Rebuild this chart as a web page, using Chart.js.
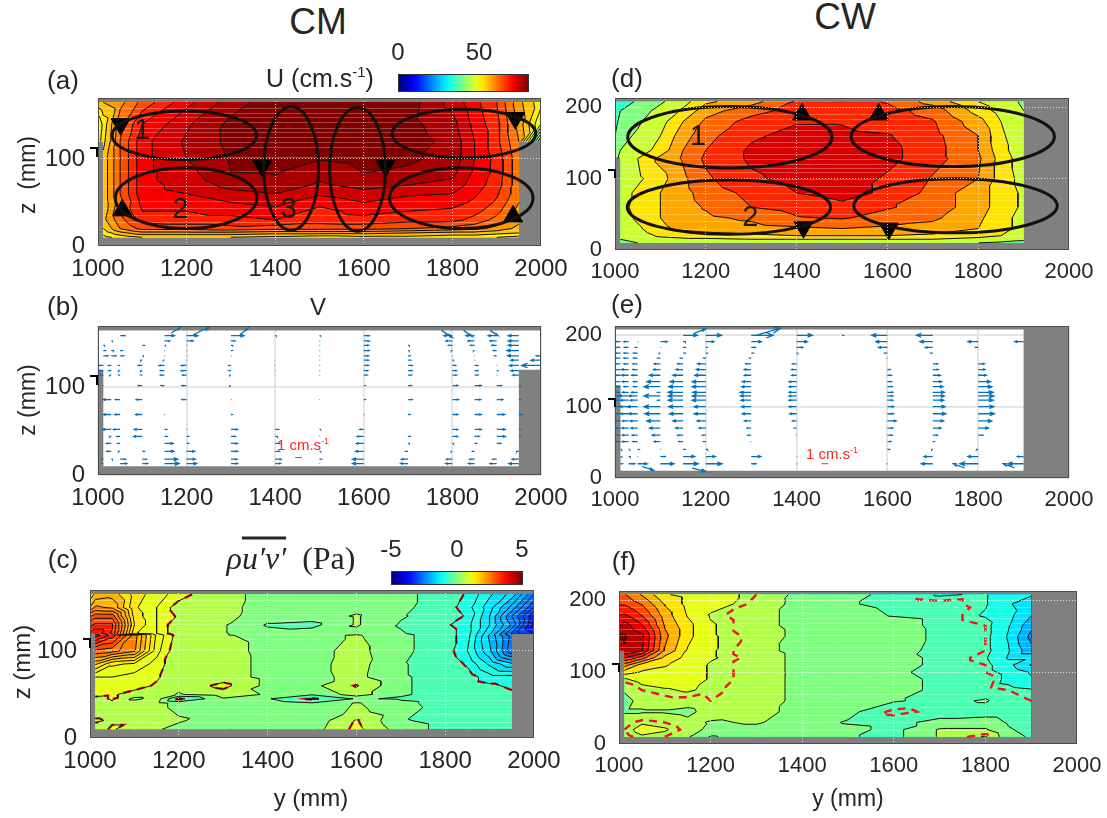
<!DOCTYPE html>
<html>
<head>
<meta charset="utf-8">
<script src="https://cdn.jsdelivr.net/npm/chart.js"></script>
<style>
  html, body { margin: 0; padding: 0; background: #fff; overflow: hidden; width: 1107px; height: 818px; }
  body { position: relative; font-family: "Liberation Sans", Arial, sans-serif; color: #262626; }
  canvas { position: absolute; }
  .t { position: absolute; transform: translate(-50%, -50%); white-space: nowrap; z-index: 2; }
  .v { position: absolute; transform: translate(-50%, -50%) rotate(-90deg); white-space: nowrap; z-index: 2; }
  .k { position: absolute; background: #000; z-index: 2; }
  .cb { position: absolute; border: 1px solid #333; box-sizing: border-box; }
  sup { font-size: 60%; }
</style>
</head>
<body>
<div class="t" style="left:318px;top:22px;font-size:37px">CM</div>
<div class="t" style="left:845px;top:17px;font-size:37px">CW</div>

<div class="t" style="left:63px;top:80px;font-size:26px">(a)</div>
<div class="t" style="left:63px;top:306px;font-size:26px">(b)</div>
<div class="t" style="left:63px;top:559px;font-size:26px">(c)</div>
<div class="t" style="left:627px;top:78px;font-size:26px">(d)</div>
<div class="t" style="left:627px;top:304px;font-size:26px">(e)</div>
<div class="t" style="left:624px;top:561px;font-size:26px">(f)</div>

<div class="t" style="left:320px;top:78px;font-size:25px">U (cm.s<sup>-1</sup>)</div>
<div class="t" style="left:398px;top:52px;font-size:24px">0</div>
<div class="t" style="left:479px;top:52px;font-size:24px">50</div>
<div class="cb" id="barU" style="left:398px;top:74px;width:131px;height:18px"></div>

<div class="t" style="left:318px;top:307px;font-size:24px">V</div>
<div class="t" style="left:303px;top:444px;font-size:15px;color:#f22">1 cm.s<sup>-1</sup></div>
<div class="t" style="left:832px;top:453px;font-size:15px;color:#f22">1 cm.s<sup>-1</sup></div>

<div class="t" style="left:291px;top:558px;font-size:32px;font-family:'Liberation Serif',serif"><i>ρ<span style="text-decoration:overline">u′v′</span></i>&nbsp;&nbsp;(Pa)</div>
<div class="t" style="left:391px;top:549px;font-size:24px">-5</div>
<div class="t" style="left:457px;top:549px;font-size:24px">0</div>
<div class="t" style="left:522px;top:549px;font-size:24px">5</div>
<div class="cb" id="barP" style="left:391px;top:571px;width:132px;height:14px"></div>

<div class="v" style="left:27px;top:175px;font-size:23px">z&nbsp;&nbsp;(mm)</div>
<div class="v" style="left:27px;top:400px;font-size:23px">z (mm)</div>
<div class="v" style="left:22px;top:662px;font-size:24px">z (mm)</div>
<div class="t" style="left:311px;top:798px;font-size:24px">y (mm)</div>
<div class="t" style="left:848px;top:798px;font-size:23px">y (mm)</div>

<div class="k" style="left:90px;top:147px;width:8px;height:2px"></div><div class="k" style="left:96px;top:147px;width:2px;height:10px"></div>
<div class="k" style="left:90px;top:375px;width:8px;height:2px"></div><div class="k" style="left:96px;top:375px;width:2px;height:10px"></div>
<div class="k" style="left:83px;top:638px;width:8px;height:2px"></div><div class="k" style="left:89px;top:638px;width:2px;height:10px"></div>
<div class="k" style="left:608px;top:169px;width:8px;height:2px"></div><div class="k" style="left:614px;top:169px;width:2px;height:9px"></div>
<div class="k" style="left:608px;top:398px;width:8px;height:2px"></div><div class="k" style="left:614px;top:398px;width:2px;height:9px"></div>
<div class="k" style="left:612px;top:663px;width:8px;height:2px"></div><div class="k" style="left:618px;top:663px;width:2px;height:9px"></div>

<script>
// Axis ticks
const yTicks = [1000, 1200, 1400, 1600, 1800, 2000];
const zTicks = [0, 100, 200];

// (a) mean velocity U, one list per y position, bottom to top
const uCmCols = [1000, 1012, 1050, 1100, 1200, 1300, 1400, 1500, 1600, 1700, 1800, 1850, 1900, 1950, 2000];
const uCmRows = [10, 15, 20, 30, 40, 50, 60, 70, 85, 100, 120, 140, 165];
const uCmValues = [
  [null, null, null, null, null, null, null, null, null, null, 47, 46, 54],
  [48, 50, 52, 54, 53, 53, 53, 53, 53, 53, 51, 50, 55],
  [50, 54, 58, 60, 61, 60, 61, 61, 61, 61, 61, 60, 57],
  [52, 57, 62, 65, 67, 68, 69, 69, 69, 69, 69, 67, 62],
  [52, 57, 62, 66, 67, 68, 70, 71, 72, 73, 73.5, 72.5, 69],
  [52, 57, 63, 66, 68, 70, 72, 74, 76, 76.3, 76.8, 76.8, 74.5],
  [51, 56, 62, 67, 69, 71, 73, 75, 76.3, 77, 77.5, 78, 78],
  [50, 56, 62, 65.5, 66, 68, 70.5, 72.5, 74, 76.2, 77.5, 78, 78],
  [51, 56, 62, 66, 68, 70, 72, 74, 76.1, 77, 78, 78, 78],
  [51, 55, 61, 65, 67, 68.5, 70.5, 73, 75.5, 76.5, 77.5, 77, 77.5],
  [50, 54, 60, 65, 66.5, 68, 70, 72, 74, 75, 75, 74, 72],
  [50, 54, 59, 63, 65, 66.5, 67.5, 68.5, 69.5, 70, 70, 69, 68],
  [49, 53, 57, 60, 62, 63.5, 64.5, 65.5, 66, 66, 65, 65, 64],
  [48, 52, 54, 56, 57, 58, 59, 59, 59, 59, 58, 57, 56],
  [null, null, null, null, null, null, null, null, null, null, 30, 46, 50]
];

// (d) mean velocity U, CW side
const uCwCols = [1000, 1012, 1050, 1100, 1150, 1200, 1300, 1400, 1500, 1600, 1700, 1800, 1850, 1900];
const uCwRows = [10, 15, 20, 30, 45, 60, 80, 100, 128, 140, 160, 180, 195, 208];
const uCwValues = [
  [null, null, null, null, null, null, null, null, 44, 41, 40, 38, 36, 34],
  [44, 46, 47, 48, 49, 50, 50, 49, 48, 46, 44, 42, 40, 36],
  [46, 48, 49, 51, 53, 54, 53, 51, 52, 49, 47, 45, 43, 41],
  [47, 50, 53, 56, 57, 57, 57, 55, 58.5, 54, 52, 50, 48, 45],
  [47, 51, 54, 58, 59.5, 60, 60.5, 61, 62.5, 62, 60, 57, 53, 50],
  [47, 51, 55, 59, 61, 62.5, 64, 66, 68, 67, 65, 63, 60, 56],
  [47, 52, 56, 60, 63, 67, 68.5, 72, 74, 74, 72, 69, 65, 60],
  [48, 52, 57, 61, 66.5, 69, 73, 75, 76, 76, 75, 72.5, 69, 67.5],
  [48, 52, 57, 62, 67.5, 71.5, 75, 77, 78, 78, 74.5, 72.5, 71, 70],
  [48, 52, 57, 61, 65, 67.5, 72, 72, 75, 75, 73.5, 70, 69, 66.5],
  [47, 52, 56, 60, 63, 65, 65, 66.5, 69, 69, 68.5, 67.5, 65, 60],
  [46, 50, 54, 57, 58, 59, 59, 62, 63, 62, 62, 59, 55, 52],
  [45, 49, 52, 54, 54, 55, 55, 55, 55, 54, 53, 52, 50, 49],
  [44, 47, 49, 50, 50, 51, 51, 50, 49, 48, 48, 47, 46, 45]
];

// (c) Reynolds stress, CM side (118/120 doubled because two data sets meet there)
const stressCmCols = [1000, 1012, 1050, 1100, 1150, 1200, 1300, 1400, 1500, 1600, 1700, 1800, 1850, 1900, 1950, 2000];
const stressCmRows = [10, 20, 30, 40, 45, 50, 60, 70, 85, 100, 118, 120, 130, 140, 150, 165];
const stressCmValues = [
  [null, null, null, null, null, null, null, null, null, null, null, 3.6, 3.2, 2.7, 2.0, 1.6],
  [0.6, 0.8, 0.6, 0.4, 0.6, 0.9, 0.9, 1.0, 1.8, 2.7, 3.9, 3.7, 3.3, 2.9, 2.3, 1.8],
  [0.8, 0.7, 0.6, 0.7, 0.8, 0.8, 0.9, 1.0, 1.3, 2.6, 3.4, 3.2, 3.3, 2.9, 2.2, 1.9],
  [0.5, 0.7, 0.7, 0.6, 0.1, 0.6, 0.9, 0.9, 1.2, 2.3, 2.4, 1.3, 1.5, 1.4, 1.3, 1.4],
  [0.3, 0.5, 0.4, 0.4, 0.5, 0.5, 0.7, 0.8, 0.9, 1.1, 1.2, 1.0, 1.0, 1.0, 1.0, 1.1],
  [0.1, 0.3, 0.2, 0.1, -0.9, 0.2, 0.4, 0.5, 0.5, 0.5, 0.6, 0.5, 0.5, 0.7, 0.6, 0.9],
  [0.2, 0.0, 0.1, 0.2, 0.2, 0.5, 0.9, 0.5, 0.5, 0.45, 0.3, 0.3, 0.3, 0.4, 0.4, 0.4],
  [0.0, 0.1, 0.1, 0.1, -0.2, 0.2, 0.1, 0.1, 0.1, 0.1, 0.1, -0.1, -0.3, 0.0, 0.05, 0.1],
  [0.0, -0.1, -0.2, -0.2, -0.85, -0.2, 0.1, 0.1, 0.1, 0.1, 0.1, 0.0, -0.4, 0.0, 0.0, 0.1],
  [0.9, 0.8, 0.4, 0.3, -0.2, 0.5, 0.8, 0.4, 0.45, 0.4, 0.3, 0.1, 0.3, 0.3, 0.1, -0.1],
  [0.0, -0.2, -0.1, -0.15, -0.3, -0.2, -0.2, -0.2, -0.2, -0.1, -0.1, -0.2, -0.3, -0.2, -0.1, -0.1],
  [-0.4, -0.4, -0.5, -0.4, -0.4, -0.4, -0.4, -0.4, -0.5, -0.6, -0.6, -0.6, -0.7, -0.5, -0.6, -0.5],
  [-0.4, -0.5, -0.5, -0.5, -0.5, -0.5, -0.6, -0.6, -0.8, -1.0, -0.9, -0.9, -0.9, -0.8, -0.9, -0.8],
  [-0.5, -0.5, -0.5, -0.5, -0.6, -0.6, -0.7, -0.9, -1.3, -1.7, -1.8, -1.7, -1.5, -1.5, -1.4, -1.2],
  [-0.5, -0.5, -0.5, -0.5, -0.6, -0.7, -0.8, -0.9, -1.7, -2.7, -2.6, -2.8, -2.3, -2.5, -2.1, -1.6],
  [null, null, null, null, null, null, null, null, null, null, null, -3.3, -3.6, -3.5, -3.0, -2.5]
];

// (f) Reynolds stress, CW side
const stressCwCols = [1000, 1012, 1050, 1100, 1150, 1200, 1300, 1400, 1500, 1600, 1700, 1800, 1850, 1900];
const stressCwRows = [10, 20, 30, 45, 60, 75, 90, 100, 110, 120, 130, 150, 165, 180, 195, 208];
const stressCwValues = [
  [null, null, null, null, null, null, null, null, null, null, 4.6, 4.8, 4.2, 3.7, 3.2, 2.8],
  [0.5, 0.6, 0.5, 0.2, 0.1, 0.3, 0.7, 1.5, 2.5, 3.8, 4.7, 4.8, 4.5, 3.8, 3.2, 2.8],
  [0.7, 0.9, 0.7, 0.2, 0.4, 0.6, 0.9, 1.2, 1.5, 3.0, 4.3, 4.4, 3.8, 3.2, 2.7, 2.2],
  [0.6, 0.8, 0.6, 0.2, 0.5, 0.7, 1.0, 1.1, 1.3, 1.6, 2.2, 2.4, 2.2, 2.0, 1.7, 1.3],
  [0.3, 0.5, 0.4, 0.1, 0.5, 0.8, 1.0, 1.0, 1.0, 1.1, 1.2, 1.4, 1.4, 1.2, 1.1, 1.1],
  [-0.3, 0.1, 0.2, 0.5, 0.6, 0.65, 0.7, 0.7, 0.7, 0.8, 0.8, 0.8, 0.8, 0.7, 1.0, 1.0],
  [0.0, 0.1, 0.3, 0.4, 0.5, 0.5, 0.5, 0.5, 0.5, 0.5, 0.4, 0.5, 0.4, 0.4, 0.5, 0.6],
  [0.0, 0.05, 0.0, 0.1, 0.1, 0.1, 0.1, 0.1, 0.1, 0.1, 0.1, 0.1, 0.1, 0.1, 0.1, 0.1],
  [-0.2, -0.1, -0.3, -0.1, 0.0, 0.1, 0.1, 0.1, 0.1, 0.1, 0.1, 0.1, 0.1, 0.0, -0.2, -0.1],
  [-0.4, -0.4, -0.4, -0.7, -0.2, 0.0, 0.0, -0.1, 0.0, 0.0, 0.1, 0.1, 0.0, -0.3, -0.4, -0.4],
  [0.3, 0.3, -0.1, -0.5, -0.4, -0.4, -0.4, -0.5, -0.4, -0.4, -0.5, -0.4, -0.4, -0.4, -0.5, -0.8],
  [0.8, 0.3, 0.0, -0.5, -0.2, -0.5, -0.4, -0.6, -0.6, -0.7, -0.6, -0.6, -0.6, -0.8, -0.7, -0.7],
  [-0.1, -0.2, -0.3, -0.5, -0.5, -0.6, -0.9, -0.9, -1.1, -1.3, -1.2, -1.3, -1.2, -1.1, -1.2, -1.2],
  [-0.3, -0.4, -0.5, -0.5, -0.6, -0.7, -1.2, -1.3, -1.8, -1.3, -2.1, -2.4, -2.1, -1.7, -1.5, -1.2]
];

// (b) spanwise velocity V in cm/s, one list per z row, top to bottom
const vCmCols = [1012, 1030, 1050, 1100, 1150, 1200, 1300, 1400, 1500, 1600, 1700, 1800, 1850, 1900, 1950, 2000];
const vCmRows = [159, 153, 148, 142, 136, 131, 125, 119, 114, 102, 86, 69, 52, 44, 36, 27, 18, 13];
const vCmValues = [
  [0.1, 0.1, 0.7, 0, 1.5, 1.7, 2.0, 0.2, 0.2, 0.8, 0.1, -1.3, -1.3, -1.3, -1.6, 0],
  [0.1, 0.2, 0.1, 0, 0.8, 1.0, 0.6, 0.1, 0.1, 0.8, 0.1, -1.0, -1.0, -1.0, -1.6, 0],
  [0.2, 0.1, 0.1, 0.3, 0.2, 0.1, 0.3, 0.1, 0.1, 0.7, 0.2, -0.6, -0.6, -0.7, -1.6, 0],
  [0.3, 0.4, 0.3, 0.1, 0.1, 0.1, 0.2, 0.1, 0.1, 0.8, 0.2, -0.2, -0.2, -0.5, -1.8, 0],
  [0.7, 0.7, 0.5, 0.2, 0.1, 0.1, 0.1, 0.1, 0.1, 0.7, 0.3, -0.1, -0.1, -0.3, -1.7, -0.7],
  [0.1, 0.1, 0.1, -0.3, -0.2, -0.1, -0.05, -0.05, 0.1, 0.7, 0.4, 0.2, 0.1, -0.1, -1.2, -1.5],
  [-0.6, -0.4, -0.2, -0.6, -0.8, -0.8, -0.3, -0.1, 0.1, 0.7, 0.6, 0.5, 0.5, 0.1, -1.4, -2.9],
  [-0.7, -0.4, -0.3, -0.3, -0.6, -0.8, -0.3, -0.05, 0.1, 0.6, 0.6, 0.6, 0.5, 0.2, -1.2, 0],
  [-0.5, -0.3, -0.2, -0.2, -0.6, -0.6, -0.2, -0.05, 0.1, 0.5, 0.5, 0.6, 0.5, 0.1, -0.9, 0],
  [-0.1, 0.05, 0.05, -0.6, -0.5, -0.7, -0.2, -0.05, -0.05, 0.2, 0.5, 0.8, 1.0, 0.7, 0.3, 0],
  [0, -1.2, -0.7, -0.9, 0.05, -0.7, 0.1, 0.05, 0.1, 0.2, 0.6, 0.9, 0.9, 0.9, 0.2, 0],
  [0, -1.2, -0.8, -1.0, 0.1, 0.05, 0.2, 0.05, 0.05, 0.1, 0.3, 0.8, 1.0, 1.2, 0.5, 0],
  [0, -1.3, -1.0, -1.2, 0.3, 0.1, 1.0, 0.5, 0.2, -0.6, 0.1, 0.8, 1.0, 1.3, 0.2, 0],
  [0, -0.3, -0.5, -1.3, 0.4, 0.3, 0.7, 0.4, 0.1, -1.0, 0.3, 0.8, 0.7, 1.3, 0.2, 0],
  [0, -0.7, -0.4, 0.1, 1.3, 0.3, 1.0, 0.7, 0.1, -1.1, 0.2, 0.2, 0.3, 0.6, -0.1, 0],
  [0.1, -0.7, -0.3, 0.3, 1.4, 1.2, 1.0, 0.6, 0.2, -1.2, -0.4, -0.2, -0.3, -0.1, -0.4, 0],
  [-0.3, 0.2, 0.8, 0.6, 2.0, 1.3, 0.9, 0.9, 0.3, -1.7, -1.0, -0.9, -0.7, -0.6, -1.0, 0],
  [-0.2, 0.1, 1.0, 0.8, 2.2, 1.5, 1.0, 0.8, 0.1, -1.7, -1.1, -1.0, -0.9, -1.0, -1.5, 0]
];
// slanted arrows near the walls: y, z, dy, dz
const vCmSlant = [[1165, 162, 20, 6], [1215, 160, 40, 10], [1320, 160, 20, 8], [1775, 165, 25, -8], [1825, 165, 20, -7], [1885, 165, 18, -6]];

// (e) spanwise velocity V in cm/s, CW side
const vCwCols = [1012, 1030, 1050, 1100, 1150, 1200, 1300, 1400, 1500, 1600, 1700, 1800, 1900];
const vCwRows = [200, 191, 183, 175, 168, 160, 152, 144, 135, 128, 120, 115, 109, 100, 90, 80, 70, 60, 51, 40, 30, 20];
const vCwValues = [
  [0, 0, 0, 0, 2.1, 2.3, 3.2, 2.3, 0.2, -2.3, -2.4, 0, 0],
  [-0.8, -0.7, 0.1, 1.0, 0.4, 1.2, 1.5, 1.6, 0.1, -1.7, -1.9, -1.5, -1.3],
  [-0.6, -0.6, -0.3, 0.1, 0.3, 0.2, 0.6, 0.9, 0.1, -1.3, -1.1, -0.4, 0],
  [-0.8, -0.7, -0.6, -0.2, 0.3, 0.2, 0.3, 0.2, 0.1, -0.4, -0.3, 0, 0],
  [-0.8, -0.7, -0.6, -0.4, -0.4, -0.3, -0.2, -0.05, 0.1, -0.1, -0.1, 0.1, 0],
  [-0.7, -0.7, -0.7, -0.9, -0.8, -1.2, -0.8, -0.6, 0.1, 0.05, 0.7, 0.9, 0],
  [-1.6, -1.0, -0.7, -1.0, -1.0, -1.4, -1.0, -0.7, 0.05, 0.4, 0.8, 1.0, 0],
  [-0.8, -1.0, -0.9, -1.6, -1.5, -1.6, -1.0, -0.7, 0.1, 0.6, 1.1, 1.2, 0],
  [-1.0, -0.9, -0.6, -2.0, -1.9, -2.0, -1.3, -1.1, 0.1, 0.6, 1.3, 1.8, 0],
  [-0.6, -0.7, -0.6, -2.4, -2.1, -2.0, -1.4, -1.1, 0.05, 0.7, 1.5, 2.0, 0],
  [-0.8, -0.9, -0.9, -0.4, -2.2, -1.9, -1.6, -1.1, 0.02, 0.8, 1.7, 2.2, 0],
  [-1.0, -1.5, -1.3, -2.4, -2.2, -2.0, -1.6, -1.1, 0.02, 0.8, 1.7, 2.3, 0],
  [-0.8, -1.2, -1.1, -0.4, -2.2, -2.0, -1.5, -1.1, 0.02, 0.8, 1.6, 2.2, 0],
  [-1.0, -1.3, -1.5, -2.4, -2.1, -1.7, -1.4, -1.1, 0.02, 0.9, 1.8, 2.3, 0],
  [-1.0, -1.2, -1.3, -2.3, -2.0, -1.7, -1.3, -1.0, 0.02, 0.9, 1.9, 2.4, 0],
  [-0.7, -0.9, -1.1, -2.0, -1.5, -1.3, -1.0, -0.6, 0.02, 1.3, 1.6, 2.0, 0],
  [-0.8, -1.0, -1.0, -1.6, -1.1, -1.0, -0.6, -0.3, 0.05, 0.8, 1.2, 1.5, 0],
  [-0.9, -0.9, -0.8, -1.2, -0.8, -0.5, -0.5, -0.1, 0.1, 0.7, 0.7, 0.7, 0],
  [-0.7, -0.9, -0.7, -0.9, -0.6, -0.3, -0.1, 0, 0.1, 0.5, 0.2, 0.1, 0],
  [0.2, 0.2, 0.2, 0.1, 0.3, 0.3, 0.1, 0, 0, 0.3, -0.2, -0.3, 0],
  [0.2, 0.3, 0.1, 0.7, 1.7, 1.4, 1.4, 0.1, 0, 0, -1.3, -1.5, -0.9],
  [0.3, 0.9, 1.4, 2.0, 2.2, 2.4, 0.7, 0.1, 0, -0.1, -1.7, -2.7, -2.3]
];
const vCwSlant = [[1175, 203, 25, 6], [1310, 200, 55, 10], [1170, 14, 30, -5], [1060, 16, 25, -5], [1770, 14, -25, 6], [1880, 14, -25, 6]];

// Contour levels
const uCmLevels = [28, 31, 34, 37, 40, 43, 46, 49, 52, 55, 58, 61, 64, 67, 70, 73, 76];
const uCwLevels = [28, 34, 40, 46, 52, 57, 62, 67, 73];
const stressLevels = [-5.25, -4.75, -4.25, -3.75, -3.25, -2.75, -2.25, -1.75, -1.25, -0.75, -0.25, 0.25, 0.75, 1.25, 1.75, 2.25, 2.75, 3.25, 3.75, 4.25, 4.75];
const stressCmExtraLines = [-3.5, -3, -2.5, -2, -1.5, -1, 1, 1.5, 2, 2.5, 3, 3.5];
const stressCmDashed = [-0.75, 0.75];
const stressCwDashed = [-0.6, 0.6];

// Circulation cells: centre y, centre z, half widths
const loopsCm = [
  [1195, 127, 163, 28], [1199, 55, 160, 35], [1436, 89, 62, 71],
  [1586, 88, 63, 71], [1826, 129, 162, 28], [1820, 55, 162, 35]
];
const loopsCw = [[1253, 158, 225, 43], [1251, 60, 224, 38], [1744, 159, 224, 42], [1750, 62, 224, 38]];
const arrowsCmY = [1051, 1055, 1371, 1649, 1942, 1937];
const arrowsCmZ = [140, 41, 92, 92, 147, 34];
const arrowsCmTurn = [180, 0, 180, 180, 180, 0];
const arrowsCwY = [1412, 1581, 1415, 1603];
const arrowsCwZ = [190, 190, 32, 30];
const arrowsCwTurn = [0, 0, 180, 180];
const loopNumbersCm = [['1', 1100, 132], ['2', 1186, 41], ['3', 1431, 41]];
const loopNumbersCw = [['1', 1183, 158], ['2', 1298, 45]];

// Areas that hold data, [y0, y1, z0, z1], side by side without overlap
const openCm = [[1012, 1950, 10, 120], [1000, 2000, 120, 165]];
const openCw = [[1012, 1900, 10, 130], [1000, 1900, 130, 208]];

const GREY = '#808080';
const MM_PER_CM_S = 15;

function jet(t) {
  const c = v => Math.round(255 * Math.max(0, Math.min(1, v)));
  const r = c(Math.min(4 * t - 1.5, -4 * t + 4.5));
  const g = c(Math.min(4 * t - 0.5, -4 * t + 3.5));
  const b = c(Math.min(4 * t + 0.5, -4 * t + 2.5));
  return `rgb(${r},${g},${b})`;
}

function jetGradient() {
  const stops = [];
  for (let i = 0; i <= 20; i++) stops.push(jet(i / 20));
  return `linear-gradient(to right, ${stops.join(',')})`;
}

// Split the grid into triangles, corners carry an id so contours can be chained
function gridTriangles(cols, rows, values) {
  const tris = [];
  const node = (i, j) => values[i][j] == null ? null : { x: cols[i], z: rows[j], v: values[i][j], id: i * 1000 + j };
  for (let i = 0; i < cols.length - 1; i++) {
    for (let j = 0; j < rows.length - 1; j++) {
      const a = node(i, j), b = node(i + 1, j), c = node(i + 1, j + 1), d = node(i, j + 1);
      if (!a || !b || !c || !d) continue;
      tris.push([a, b, c], [a, c, d]);
    }
  }
  return tris;
}

function crossing(p, q, level) {
  const f = (level - p.v) / (q.v - p.v);
  return { x: p.x + f * (q.x - p.x), z: p.z + f * (q.z - p.z), key: Math.min(p.id, q.id) + '_' + Math.max(p.id, q.id) };
}

// Part of a triangle at or above a level
function clipAbove(tri, level) {
  const out = [];
  for (let i = 0; i < 3; i++) {
    const p = tri[i], q = tri[(i + 1) % 3];
    if (p.v >= level) out.push(p);
    if ((p.v >= level) !== (q.v >= level)) out.push(crossing(p, q, level));
  }
  return out;
}

// Chain the triangle crossings of one level into polylines
function contourLines(tris, level) {
  const segs = [];
  const byKey = {};
  tris.forEach(tri => {
    const hits = [];
    for (let i = 0; i < 3; i++) {
      const p = tri[i], q = tri[(i + 1) % 3];
      if ((p.v >= level) !== (q.v >= level)) hits.push(crossing(p, q, level));
    }
    if (hits.length !== 2) return;
    const seg = { a: hits[0], b: hits[1], used: false };
    segs.push(seg);
    (byKey[seg.a.key] = byKey[seg.a.key] || []).push(seg);
    (byKey[seg.b.key] = byKey[seg.b.key] || []).push(seg);
  });
  const lines = [];
  const walk = (start, line) => {
    let pt = start;
    for (;;) {
      const next = (byKey[pt.key] || []).find(s => !s.used);
      if (!next) return;
      next.used = true;
      pt = next.a.key === pt.key ? next.b : next.a;
      line.push(pt);
    }
  };
  segs.forEach(seg => {
    if (seg.used) return;
    seg.used = true;
    const forward = [seg.b];
    walk(seg.b, forward);
    const back = [seg.a];
    walk(seg.a, back);
    lines.push(back.reverse().concat(forward));
  });
  return lines;
}

function linesToData(lines) {
  const data = [];
  lines.forEach(line => {
    line.forEach(p => data.push({ x: p.x, y: p.z }));
    data.push({ x: NaN, y: NaN });
  });
  return data;
}

function quiverData(cols, rows, values, slant, zPerY) {
  const data = [];
  const gap = { x: NaN, y: NaN };
  const arrow = (y, z, dy, dz) => {
    data.push({ x: y, y: z }, { x: y + dy, y: z + dz }, gap);
    if (Math.abs(dy) < 3) return; // too short for a visible head
    const backY = y + dy * 0.7, backZ = z + dz * 0.7;
    const wing = Math.abs(dy) * 0.12 * zPerY;
    data.push({ x: backY, y: backZ + wing }, { x: y + dy, y: z + dz }, { x: backY, y: backZ - wing }, gap);
  };
  rows.forEach((z, r) => {
    cols.forEach((y, c) => {
      const v = values[r][c];
      if (v) arrow(y, z, v * MM_PER_CM_S, 0);
    });
  });
  slant.forEach(s => arrow(s[0], s[1], s[2], s[3]));
  return data;
}

function paintPlugin(p) {
  return {
    id: 'paint',
    beforeDatasetsDraw(chart) {
      const { ctx, chartArea: area, scales } = chart;
      const X = v => scales.x.getPixelForValue(v);
      const Z = v => scales.y.getPixelForValue(v);
      const addOpenRects = () => {
        p.open.forEach(o => ctx.rect(X(o[0]), Z(o[3]), X(o[1]) - X(o[0]), Z(o[2]) - Z(o[3])));
      };
      ctx.save();
      ctx.fillStyle = GREY;
      if (!p.field) {
        // grey only outside the open areas, the grid stays visible inside them
        ctx.beginPath();
        ctx.rect(area.left, area.top, area.width, area.height);
        addOpenRects();
        ctx.fill('evenodd');
      } else {
        ctx.fillRect(area.left, area.top, area.width, area.height);
        ctx.beginPath();
        addOpenRects();
        ctx.clip();
        const tris = gridTriangles(p.field.cols, p.field.rows, p.field.values);
        p.field.levels.forEach((level, n) => {
          ctx.beginPath();
          tris.forEach(tri => {
            const poly = n === 0 ? tri : clipAbove(tri, level);
            if (poly.length < 3) return;
            poly.forEach((pt, i) => i ? ctx.lineTo(X(pt.x), Z(pt.z)) : ctx.moveTo(X(pt.x), Z(pt.z)));
            ctx.closePath();
          });
          ctx.fillStyle = ctx.strokeStyle = p.field.color(level);
          ctx.lineWidth = 0.7;
          ctx.fill();
          ctx.stroke();
        });
        // faint seams at the measurement rows
        ctx.strokeStyle = 'rgba(255,255,255,0.28)';
        ctx.lineWidth = 1;
        p.field.seams.forEach(z => {
          const o = p.open.find(r => z >= r[2] && z <= r[3]) || p.open[0];
          ctx.beginPath();
          ctx.moveTo(X(o[0]), Math.round(Z(z)) + 0.5);
          ctx.lineTo(X(o[1]), Math.round(Z(z)) + 0.5);
          ctx.stroke();
        });
      }
      ctx.restore();
    },
    afterDatasetsDraw(chart) {
      const { ctx, scales } = chart;
      const X = v => scales.x.getPixelForValue(v);
      const Z = v => scales.y.getPixelForValue(v);
      ctx.save();
      ctx.strokeStyle = '#15100c';
      ctx.lineWidth = 3;
      (p.loops || []).forEach(e => {
        ctx.beginPath();
        ctx.ellipse(X(e[0]), Z(e[1]), Math.abs(X(e[0] + e[2]) - X(e[0])), Math.abs(Z(e[1] + e[3]) - Z(e[1])), 0, 0, Math.PI * 2);
        ctx.stroke();
      });
      ctx.fillStyle = '#1a1a1a';
      ctx.font = '29px "Liberation Sans"';
      ctx.textAlign = 'center';
      ctx.textBaseline = 'middle';
      (p.numbers || []).forEach(n => ctx.fillText(n[0], X(n[1]), Z(n[2])));
      ctx.restore();
    },
    afterDraw(chart) {
      const { ctx, chartArea: area } = chart;
      ctx.save();
      ctx.strokeStyle = '#4d4d4d';
      ctx.lineWidth = 1;
      ctx.strokeRect(area.left + 0.5, area.top + 0.5, area.width - 1, area.height - 1);
      ctx.restore();
    }
  };
}

function makePanel(p) {
  const { l, r, t, b } = p.box;
  const canvas = document.createElement('canvas');
  // the y axis asks for half a label plus its tick padding above the plot
  const padTop = 32, padRight = 45, left = 70, bottom = 50;
  canvas.width = r - l + left + padRight;
  canvas.height = b - t + padTop + bottom;
  canvas.style.left = (l - left) + 'px';
  canvas.style.top = (t - padTop) + 'px';
  document.body.appendChild(canvas);

  const datasets = [];
  if (p.field) {
    const tris = gridTriangles(p.field.cols, p.field.rows, p.field.values);
    p.field.levels.concat(p.field.extraLines || []).forEach(level => {
      datasets.push({
        data: linesToData(contourLines(tris, level)), showLine: true, pointRadius: 0,
        borderColor: '#111', borderWidth: 1, tension: 0
      });
    });
    (p.field.dashed || []).forEach(level => {
      datasets.push({
        data: linesToData(contourLines(tris, level)), showLine: true, pointRadius: 0,
        borderColor: '#f0141e', borderWidth: 2.4, borderDash: [8, 6], tension: 0
      });
    });
  }
  if (p.quiver) {
    datasets.push({
      data: quiverData(p.quiver.cols, p.quiver.rows, p.quiver.values, p.quiver.slant, p.quiver.zPerY),
      showLine: true, pointRadius: 0, borderColor: '#0072bd', borderWidth: 1.3, tension: 0
    });
    datasets.push({
      data: [{ x: p.quiver.barY, y: 20 }, { x: p.quiver.barY + MM_PER_CM_S, y: 20 }],
      showLine: true, pointRadius: 0, borderColor: '#f22', borderWidth: 1
    });
  }
  if (p.arrowY) {
    datasets.push({
      data: p.arrowY.map((y, i) => ({ x: y, y: p.arrowZ[i] })), showLine: false,
      pointStyle: 'triangle', pointRadius: 11, pointRotation: p.arrowTurn,
      backgroundColor: '#000', borderColor: '#000'
    });
  }

  const tickFont = { family: 'Liberation Sans', size: p.tickSize };
  new Chart(canvas.getContext('2d'), {
    type: 'scatter',
    data: { datasets },
    options: {
      responsive: false,
      animation: false,
      events: [],
      layout: { padding: { left: 0, top: padTop, right: padRight, bottom: 0 } },
      plugins: { legend: { display: false }, tooltip: { enabled: false } },
      scales: {
        x: {
          type: 'linear', min: 1000, max: 2000,
          afterBuildTicks: s => { s.ticks = yTicks.map(value => ({ value })); },
          afterFit: s => { s.height = bottom; },
          ticks: { color: '#262626', font: tickFont, padding: 9, maxRotation: 0, autoSkip: false, callback: v => String(v) },
          grid: { z: p.gridZ, color: p.gridColor, lineWidth: p.gridWidth, drawTicks: false },
          border: { display: false, dash: p.gridDash }
        },
        y: {
          type: 'linear', min: 0, max: p.zMax,
          afterBuildTicks: s => { s.ticks = zTicks.filter(v => v <= p.zMax).map(value => ({ value })); },
          afterFit: s => { s.width = left; },
          ticks: { color: '#262626', font: tickFont, padding: 13, autoSkip: false, callback: v => String(v) },
          grid: { z: p.gridZ, color: p.gridColor, lineWidth: p.gridWidth, drawTicks: false },
          border: { display: false, dash: p.gridDash }
        }
      }
    },
    plugins: [paintPlugin(p)]
  });
}

document.getElementById('barU').style.background = jetGradient();
document.getElementById('barP').style.background = jetGradient();

const dotted = { gridZ: 1, gridColor: 'rgba(255,255,255,0.75)', gridWidth: 1, gridDash: [1, 2] };
const solid = { gridZ: 0, gridColor: '#e6e6e6', gridWidth: 2, gridDash: [] };

makePanel({
  ...dotted, box: { l: 98, r: 541, t: 98, b: 246 }, zMax: 170, tickSize: 24, open: openCm,
  field: { cols: uCmCols, rows: uCmRows, values: uCmValues, levels: uCmLevels, color: l => jet(l / 76), seams: vCmRows },
  loops: loopsCm, arrowY: arrowsCmY, arrowZ: arrowsCmZ, arrowTurn: arrowsCmTurn, numbers: loopNumbersCm
});
makePanel({
  ...solid, box: { l: 98, r: 541, t: 326, b: 475 }, zMax: 170, tickSize: 24, open: openCm,
  quiver: { cols: vCmCols, rows: vCmRows, values: vCmValues, slant: vCmSlant, zPerY: 0.507, barY: 1445 }
});
makePanel({
  ...dotted, box: { l: 90, r: 534, t: 590, b: 738 }, zMax: 170, tickSize: 24, open: openCm,
  field: { cols: stressCmCols, rows: stressCmRows, values: stressCmValues, levels: stressLevels, extraLines: stressCmExtraLines, dashed: stressCmDashed, color: l => jet((l + 5.25) / 10), seams: vCmRows }
});
makePanel({
  ...dotted, box: { l: 615, r: 1069, t: 98, b: 250 }, zMax: 213, tickSize: 22, open: openCw,
  field: { cols: uCwCols, rows: uCwRows, values: uCwValues, levels: uCwLevels, color: l => jet(l / 80), seams: vCwRows },
  loops: loopsCw, arrowY: arrowsCwY, arrowZ: arrowsCwZ, arrowTurn: arrowsCwTurn, numbers: loopNumbersCw
});
makePanel({
  ...solid, box: { l: 615, r: 1069, t: 326, b: 478 }, zMax: 213, tickSize: 22, open: openCw,
  quiver: { cols: vCwCols, rows: vCwRows, values: vCwValues, slant: vCwSlant, zPerY: 0.636, barY: 1455 }
});
makePanel({
  ...dotted, box: { l: 619, r: 1077, t: 591, b: 744 }, zMax: 213, tickSize: 22, open: openCw,
  field: { cols: stressCwCols, rows: stressCwRows, values: stressCwValues, levels: stressLevels, dashed: stressCwDashed, color: l => jet((l + 5.25) / 10), seams: vCwRows }
});
</script>
</body>
</html>
